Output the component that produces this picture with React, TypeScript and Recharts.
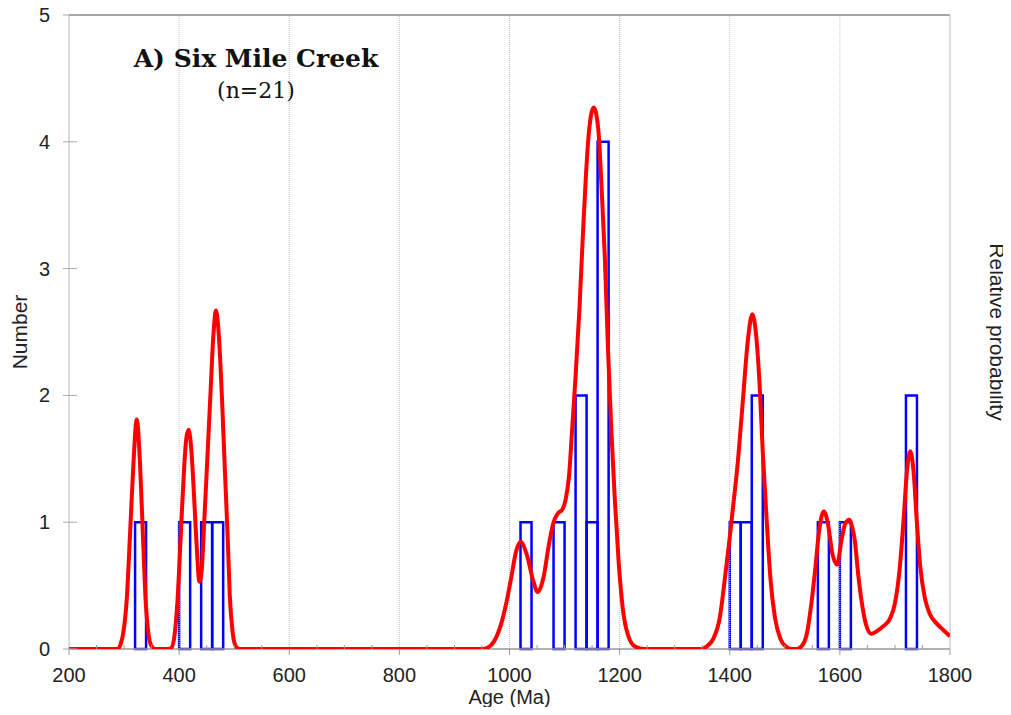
import React from 'react';
import { ComposedChart, Line, XAxis, YAxis, ReferenceArea, ReferenceLine } from 'recharts';

// histogram bins (20 Ma wide), start age + count
const binStarts = [320, 400, 440, 460, 1020, 1080, 1120, 1140, 1160, 1400, 1420, 1440, 1560, 1600, 1720];
const binCounts = [1, 1, 1, 1, 1, 1, 2, 1, 4, 1, 1, 2, 1, 1, 2];
const binWidth = 20;

// probability density curve (scaled to the Number axis)
const curveAges = [
  200, 280, 288, 294, 299, 305, 311, 317, 323, 329, 334, 339, 344, 349, 356,
  380, 386, 392, 397, 403, 409, 413, 417, 421, 425, 431, 437, 441, 445, 451, 457, 462, 467, 472, 478, 483, 488, 492, 497, 502, 509,
  950, 960, 972, 985, 995, 1003, 1012, 1020, 1031, 1043, 1051, 1062, 1071, 1080, 1088, 1096, 1102, 1108, 1114, 1120, 1127, 1133, 1139, 1145, 1153, 1161, 1167, 1173, 1179, 1185, 1191, 1198, 1206, 1216, 1228, 1245,
  1350, 1358, 1370, 1382, 1391, 1400, 1406, 1415, 1424, 1433, 1441, 1448, 1454, 1460, 1467, 1474, 1482, 1492, 1502, 1512,
  1522, 1532, 1540, 1548, 1555, 1562, 1567, 1571, 1579, 1586, 1595, 1603, 1610, 1617, 1623, 1627, 1633, 1639, 1647, 1657, 1667, 1679, 1691, 1700, 1709, 1716, 1722, 1728, 1734, 1740, 1746, 1754, 1763, 1776, 1788, 1800,
];
const curveProb = [
  0, 0, 0, 0.04, 0.14, 0.4, 0.92, 1.46, 1.81, 1.46, 0.92, 0.4, 0.13, 0.03, 0,
  0, 0.01, 0.12, 0.38, 0.9, 1.42, 1.66, 1.73, 1.63, 1.38, 0.88, 0.53, 0.62, 0.95, 1.48, 2.02, 2.46, 2.67, 2.48, 1.96, 1.42, 0.9, 0.42, 0.14, 0.03, 0,
  0, 0.01, 0.06, 0.2, 0.38, 0.56, 0.77, 0.845, 0.75, 0.54, 0.45, 0.57, 0.81, 1.0, 1.07, 1.1, 1.18, 1.36, 1.75, 2.15, 2.68, 3.24, 3.75, 4.11, 4.27, 4.11, 3.66, 3.1, 2.35, 1.72, 1.2, 0.7, 0.31, 0.1, 0.02, 0,
  0, 0.02, 0.08, 0.25, 0.55, 0.88, 1.12, 1.49, 1.97, 2.44, 2.64, 2.47, 2.1, 1.55, 1.02, 0.55, 0.25, 0.08, 0.02, 0,
  0, 0.03, 0.12, 0.35, 0.62, 0.92, 1.05, 1.085, 0.97, 0.76, 0.665, 0.86, 0.99, 1.02, 0.95, 0.86, 0.6, 0.39, 0.2, 0.12, 0.14, 0.18, 0.24, 0.36, 0.65, 1.04, 1.41, 1.56, 1.39, 0.99, 0.65, 0.41, 0.28, 0.2, 0.15, 0.1,
];

const ageTicks = [
  200, 250, 300, 350, 400, 450, 500, 550, 600, 650, 700, 750, 800, 850, 900, 950, 1000,
  1050, 1100, 1150, 1200, 1250, 1300, 1350, 1400, 1450, 1500, 1550, 1600, 1650, 1700, 1750, 1800,
];
const labelledAges = [200, 400, 600, 800, 1000, 1200, 1400, 1600, 1800];
const gridAges = [400, 600, 800, 1000, 1200, 1400, 1600];
const countTicks = [0, 1, 2, 3, 4, 5];

const data = curveAges.map((age, i) => ({ age, prob: curveProb[i] }));

const sans = '"Liberation Sans", Arial, sans-serif';

const AgeTick = ({ x, y, payload }: any) => {
  const major = labelledAges.includes(payload.value);
  return (
    <g>
      <line x1={x} x2={x} y1={major ? y : y - 4} y2={major ? y + 6 : y} stroke="#999" />
      {major && (
        <text x={x} y={y + 33} textAnchor="middle" fontSize={20} fill="#222" fontFamily={sans}>
          {payload.value}
        </text>
      )}
    </g>
  );
};

const CountTick = ({ x, y, payload }: any) => (
  <g>
    <line x1={x - 6} x2={x + 8} y1={y} y2={y} stroke="#aaa" />
    <text x={x - 19} y={y + 7} textAnchor="end" fontSize={20} fill="#222" fontFamily={sans}>
      {payload.value}
    </text>
  </g>
);

export default function App() {
  return (
    <div style={{ marginTop: -8, marginLeft: -8, width: 1011, height: 707, position: 'relative', background: '#fff' }}>
      <ComposedChart width={1011} height={707} data={data} margin={{ top: 15, right: 11, bottom: 0, left: 9 }}>
        <XAxis
          dataKey="age"
          type="number"
          domain={[200, 1800]}
          ticks={ageTicks}
          interval={0}
          allowDataOverflow
          height={58}
          tickSize={0}
          tickMargin={0}
          tickLine={false}
          tick={<AgeTick />}
          axisLine={{ stroke: '#999', strokeWidth: 1.5 }}
          label={{ value: 'Age (Ma)', position: 'insideBottom', offset: 3, fontSize: 20, fill: '#222', fontFamily: sans }}
        />
        <YAxis
          yAxisId="count"
          type="number"
          domain={[0, 5]}
          ticks={countTicks}
          interval={0}
          allowDataOverflow
          width={60}
          tickSize={0}
          tickMargin={0}
          tickLine={false}
          tick={<CountTick />}
          axisLine={{ stroke: '#bbb' }}
          label={{
            value: 'Number',
            angle: -90,
            position: 'insideLeft',
            offset: 11,
            fontSize: 21,
            fill: '#222',
            fontFamily: sans,
            style: { textAnchor: 'middle' },
          }}
        />
        <YAxis
          yAxisId="prob"
          orientation="right"
          type="number"
          domain={[0, 5]}
          allowDataOverflow
          width={50}
          tick={false}
          tickLine={false}
          axisLine={{ stroke: '#bbb' }}
          label={{
            value: 'Relative probability',
            angle: 90,
            position: 'insideRight',
            offset: 3,
            fontSize: 21,
            fill: '#222',
            fontFamily: sans,
            style: { textAnchor: 'middle' },
          }}
        />
        {gridAges.map((a) => (
          <ReferenceLine key={'g' + a} x={a} yAxisId="count" stroke="#c4c4c4" strokeDasharray="1 1" />
        ))}
        <ReferenceLine y={5} yAxisId="count" stroke="#888" strokeWidth={1.5} />
        <ReferenceArea x1={260} x2={900} y1={4.13} y2={4.9} yAxisId="count" fill="#fff" fillOpacity={1} stroke="none" />
        {binStarts.map((start, i) => (
          <ReferenceArea
            key={'b' + start}
            x1={start}
            x2={start + binWidth}
            y1={0}
            y2={binCounts[i]}
            yAxisId="count"
            fill="none"
            fillOpacity={0}
            stroke="#0000ff"
            strokeWidth={2.5}
            strokeOpacity={1}
          />
        ))}
        <Line
          yAxisId="prob"
          dataKey="prob"
          type="monotone"
          stroke="#ff0000"
          strokeWidth={4}
          dot={false}
          activeDot={false}
          isAnimationActive={false}
          zIndex={600}
        />
      </ComposedChart>
      <svg width={1011} height={707} style={{ position: 'absolute', left: 0, top: 0, pointerEvents: 'none' }}>
        <text x={256} y={67} textAnchor="middle" fontFamily='"DejaVu Serif", serif' fontWeight="bold" fontSize={25} fill="#111">
          A) Six Mile Creek
        </text>
        <text x={256} y={98} textAnchor="middle" fontFamily='"DejaVu Serif", serif' fontSize={22} fill="#111">
          (n=21)
        </text>
      </svg>
    </div>
  );
}
